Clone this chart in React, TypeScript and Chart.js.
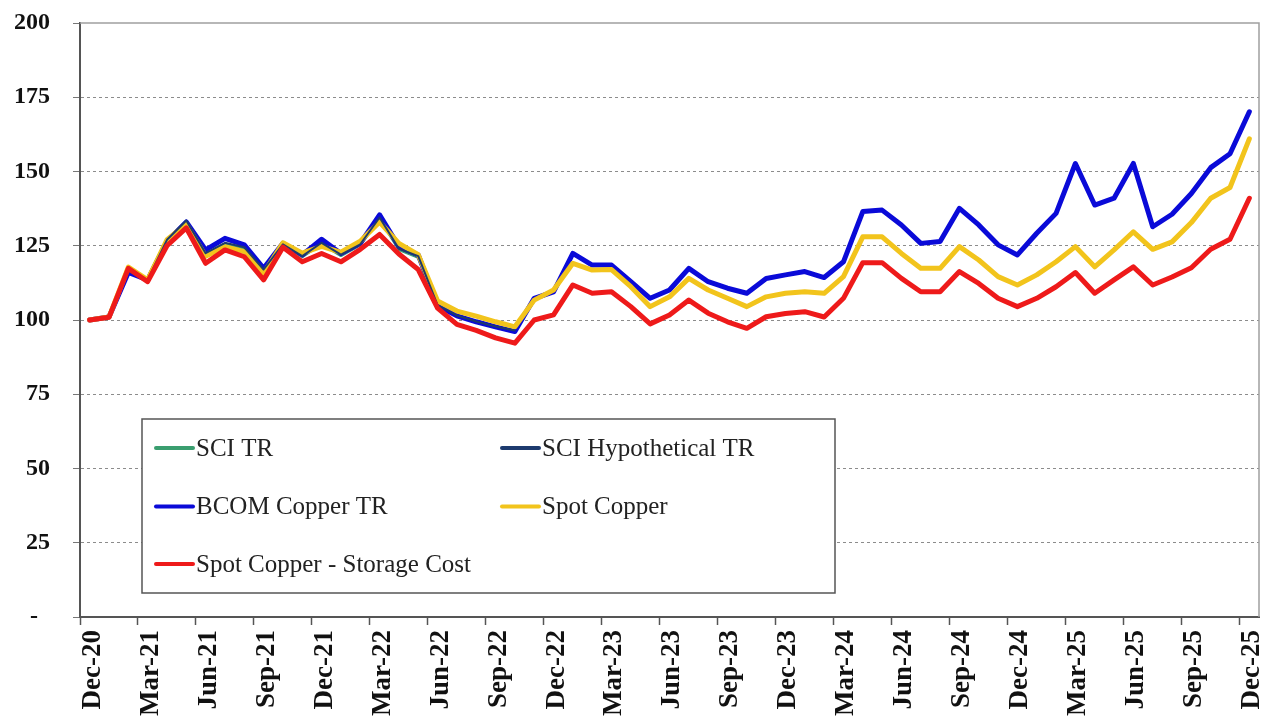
import React, { useEffect, useRef } from 'react';
import { Chart, registerables } from 'chart.js';

Chart.register(...registerables);

const months = [
  'Dec-20',
  'Jan-21', 'Feb-21', 'Mar-21', 'Apr-21', 'May-21', 'Jun-21', 'Jul-21', 'Aug-21', 'Sep-21', 'Oct-21', 'Nov-21', 'Dec-21',
  'Jan-22', 'Feb-22', 'Mar-22', 'Apr-22', 'May-22', 'Jun-22', 'Jul-22', 'Aug-22', 'Sep-22', 'Oct-22', 'Nov-22', 'Dec-22',
  'Jan-23', 'Feb-23', 'Mar-23', 'Apr-23', 'May-23', 'Jun-23', 'Jul-23', 'Aug-23', 'Sep-23', 'Oct-23', 'Nov-23', 'Dec-23',
  'Jan-24', 'Feb-24', 'Mar-24', 'Apr-24', 'May-24', 'Jun-24', 'Jul-24', 'Aug-24', 'Sep-24', 'Oct-24', 'Nov-24', 'Dec-24',
  'Jan-25', 'Feb-25', 'Mar-25', 'Apr-25', 'May-25', 'Jun-25', 'Jul-25', 'Aug-25', 'Sep-25', 'Oct-25', 'Nov-25', 'Dec-25',
];

const seriesNames = [
  'SCI TR',
  'SCI Hypothetical TR',
  'BCOM Copper TR',
  'Spot Copper',
  'Spot Copper - Storage Cost',
];

const sciTR: (number | null)[] = [
  100, 100.8, 116.2, 113.2, 126.5, 132.8, 122.2, 125.6, 124.0, 116.6, 125.2, 121.2,
  125.6, 121.6, 125.2, 134.0, 123.6, 121.0, 104.8, 101.4, 99.4, 97.6, 96.4,
];

const sciHypotheticalTR: (number | null)[] = [
  100, 101.0, 116.5, 113.5, 127.0, 133.5, 122.5, 126.0, 124.5, 117.0, 125.5, 121.5,
  126.0, 122.0, 125.5, 134.5, 124.0, 121.5, 105.0, 101.5, 99.5, 97.8, 96.5,
];

const bcomCopperTR = [
  100, 101.0, 116.0, 113.5, 126.5, 133.0, 123.6, 127.5, 125.3, 117.4, 125.8, 121.9,
  127.2, 122.4, 125.8, 135.4, 124.7, 121.9, 104.8, 101.4, 99.4, 97.7, 96.1, 107.3,
  109.5, 122.4, 118.5, 118.5, 112.9, 107.3, 110.1, 117.4, 112.9, 110.7, 109.0, 114.0,
  115.2, 116.3, 114.3, 119.6, 136.5, 137.0, 132.0, 125.8, 126.4, 137.6, 132.0, 125.3,
  121.9, 129.2, 135.9, 152.7, 138.7, 141.0, 152.7, 131.4, 135.6, 142.6, 151.3, 156.0,
  170.1,
];

const spotCopper = [
  100, 101.0, 117.8, 113.5, 127.0, 132.3, 121.5, 124.7, 123.0, 115.7, 126.0, 122.5,
  124.8, 122.8, 126.5, 133.0, 125.8, 122.0, 106.4, 103.0, 101.3, 99.4, 97.7, 106.7,
  110.1, 119.1, 116.8, 117.0, 111.2, 104.5, 107.8, 114.0, 110.1, 107.3, 104.5, 107.8,
  109.0, 109.5, 109.0, 114.6, 128.0, 128.0, 122.4, 117.4, 117.4, 124.7, 120.2, 114.6,
  111.8, 115.2, 119.6, 124.7, 117.9, 123.6, 129.7, 123.8, 126.3, 132.8, 141.0, 144.6,
  161.0,
];

const spotCopperStorageCost = [
  100, 100.9, 117.4, 112.9, 125.0, 131.0, 119.1, 123.6, 121.3, 113.5, 124.5, 119.6,
  122.4, 119.6, 123.8, 128.8, 122.2, 117.0, 104.0, 98.5, 96.5, 94.0, 92.2, 100.0,
  101.7, 111.8, 109.0, 109.5, 104.5, 98.7, 101.7, 106.7, 102.3, 99.4, 97.2, 101.1,
  102.2, 102.8, 101.0, 107.3, 119.3, 119.3, 114.0, 109.5, 109.5, 116.3, 112.3, 107.3,
  104.5, 107.3, 111.2, 116.0, 109.0, 113.5, 117.9, 111.8, 114.5, 117.6, 123.8, 127.2,
  141.0,
];

const W = 1264;
const H = 760;
const SERIF = "'Liberation Serif', 'Times New Roman', serif";

const framePlugin = {
  id: 'frame',
  beforeDatasetsDraw(chart: any) {
    const { ctx, chartArea: a } = chart;
    ctx.save();
    ctx.strokeStyle = '#a0a0a0';
    ctx.lineWidth = 1.5;
    ctx.beginPath();
    ctx.moveTo(a.left, a.top);
    ctx.lineTo(a.right, a.top);
    ctx.lineTo(a.right, a.bottom);
    ctx.stroke();
    ctx.restore();
  },
};

const boxLegendPlugin = {
  id: 'boxLegend',
  afterDatasetsDraw(chart: any) {
    const { ctx, chartArea: a } = chart;
    const left = a.left + 62;
    const top = 419;
    const w = 693;
    const h = 174;
    ctx.save();
    ctx.fillStyle = '#ffffff';
    ctx.fillRect(left, top, w, h);
    ctx.strokeStyle = '#555555';
    ctx.lineWidth = 1.5;
    ctx.strokeRect(left, top, w, h);
    const cols = [left + 14, left + 360];
    const rows = [top + 29, top + 87.5, top + 145];
    const lineLen = 37;
    ctx.font = `25px ${SERIF}`;
    ctx.textBaseline = 'middle';
    ctx.textAlign = 'left';
    chart.data.datasets.forEach((ds: any, i: number) => {
      const cx = cols[i % 2];
      const cy = rows[Math.floor(i / 2)];
      ctx.strokeStyle = ds.borderColor;
      ctx.lineWidth = 4;
      ctx.lineCap = 'round';
      ctx.beginPath();
      ctx.moveTo(cx, cy);
      ctx.lineTo(cx + lineLen, cy);
      ctx.stroke();
      ctx.fillStyle = '#222222';
      ctx.fillText(ds.label, cx + lineLen + 3, cy + 1);
    });
    ctx.restore();
  },
};

export default function App() {
  const ref = useRef<HTMLCanvasElement | null>(null);

  useEffect(() => {
    if (!ref.current) return;
    const chart = new Chart(ref.current, {
      type: 'line',
      data: {
        labels: months,
        datasets: [
          { label: seriesNames[0], data: sciTR, borderColor: '#3a9e6f', borderWidth: 2.5, order: 4 },
          { label: seriesNames[1], data: sciHypotheticalTR, borderColor: '#1d3a6e', borderWidth: 2, order: 1 },
          { label: seriesNames[2], data: bcomCopperTR, borderColor: '#0a0ad8', borderWidth: 5, order: 3 },
          { label: seriesNames[3], data: spotCopper, borderColor: '#f2c41c', borderWidth: 5, order: 2 },
          { label: seriesNames[4], data: spotCopperStorageCost, borderColor: '#ee1a1a', borderWidth: 5, order: 0 },
        ],
      },
      options: {
        responsive: false,
        animation: false,
        devicePixelRatio: 1,
        spanGaps: false,
        layout: { padding: { left: 0, right: 5, top: 23, bottom: 0 } },
        elements: {
          point: { radius: 0, hoverRadius: 0 },
          line: { tension: 0, borderJoinStyle: 'round', borderCapStyle: 'round', fill: false },
        },
        plugins: {
          legend: { display: false },
          tooltip: { enabled: false },
        },
        scales: {
          x: {
            type: 'category',
            offset: true,
            grid: {
              offset: true,
              drawOnChartArea: false,
              drawTicks: true,
              tickLength: 8,
              tickWidth: 1.5,
              tickColor: (c: any) => (c.index % 3 === 0 ? '#555555' : 'rgba(0,0,0,0)'),
            },
            border: { display: true, color: '#555555', width: 2 },
            ticks: {
              autoSkip: false,
              maxRotation: 90,
              minRotation: 90,
              padding: 5,
              labelOffset: 3,
              color: '#111111',
              font: { family: SERIF, size: 27, weight: 'bold' },
              callback: (_v: any, i: number) => (i % 3 === 0 ? months[i] : ''),
            },
            afterFit: (s: any) => {
              s.height = H - 617;
              s.paddingLeft = 0;
              s.paddingRight = 0;
            },
          },
          y: {
            min: 0,
            max: 200,
            grid: {
              color: (c: any) =>
                c.tick && (c.tick.value === 0 || c.tick.value === 200) ? 'rgba(0,0,0,0)' : '#8c8c8c',
              lineWidth: 1,
              tickLength: 7,
              tickColor: '#777777',
              tickWidth: 1,
            },
            border: { display: true, color: '#555555', width: 2, dash: [3, 3] },
            ticks: {
              stepSize: 25,
              padding: 23,
              color: '#111111',
              font: { family: SERIF, size: 24, weight: 'bold' },
              callback: (v: any) => (Number(v) === 0 ? '-  ' : String(v)),
            },
            afterFit: (s: any) => {
              s.width = 80;
              s.paddingTop = 0;
              s.paddingBottom = 0;
            },
          },
        },
      },
      plugins: [framePlugin, boxLegendPlugin],
    });
    return () => chart.destroy();
  }, []);

  return (
    <div
      style={{
        position: 'fixed',
        left: 0,
        top: 0,
        width: W,
        height: 721,
        overflow: 'hidden',
        background: '#ffffff',
      }}
    >
      <canvas ref={ref} width={W} height={H} style={{ display: 'block' }} />
    </div>
  );
}
